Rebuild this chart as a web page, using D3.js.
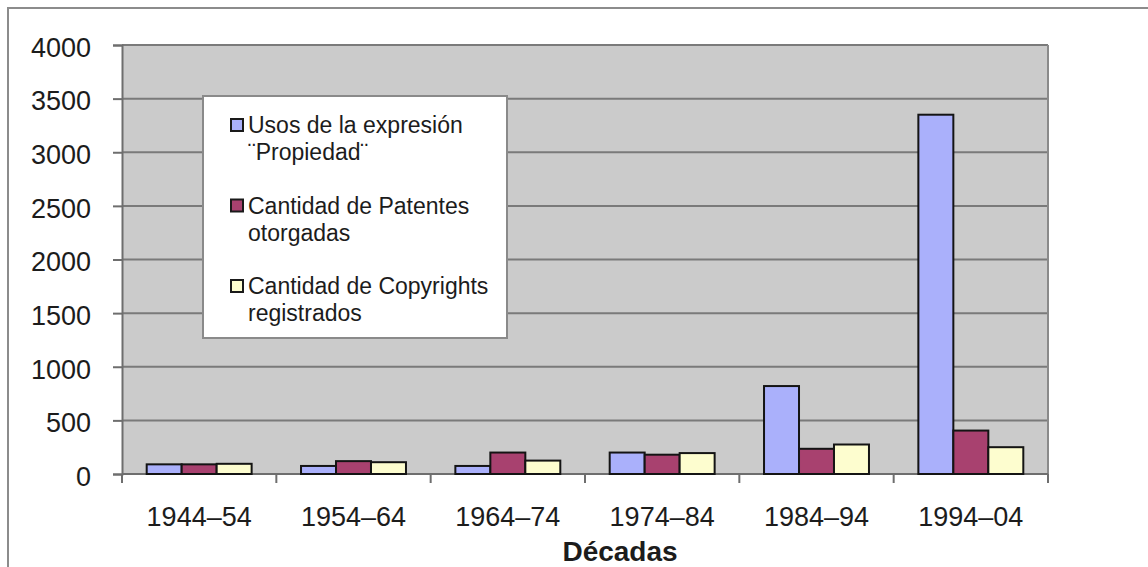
<!DOCTYPE html>
<html lang="es">
<head>
<meta charset="utf-8">
<script src="https://cdn.jsdelivr.net/npm/d3@7"></script>
<style>
  html, body { margin: 0; padding: 0; background: #ffffff; }
  svg { display: block; font-family: "Liberation Sans", Arial, sans-serif; }
</style>
</head>
<body>
<svg id="chart" width="1148" height="567"></svg>
<script>
// Décadas en el eje X
const categories = ["1944–54", "1954–64", "1964–74", "1974–84", "1984–94", "1994–04"];

// Series de valores por década
const usosPropiedad = [90, 75, 75, 200, 820, 3350];
const patentes      = [90, 120, 200, 180, 235, 405];
const copyrights    = [95, 110, 125, 195, 275, 250];

// Etiquetas de la leyenda (una línea por elemento)
const legendLabels = [
  ["Usos de la expresión", "¨Propiedad¨"],
  ["Cantidad de Patentes", "otorgadas"],
  ["Cantidad de Copyrights", "registrados"]
];
const seriesColors = ["#aab0fb", "#a8416f", "#fdfdcf"];

// Marcas del eje Y
const yTicks = [0, 500, 1000, 1500, 2000, 2500, 3000, 3500, 4000];

const xTitle = "Décadas";

const series = [usosPropiedad, patentes, copyrights];

const svg = d3.select("#chart");
const plot = { left: 122, right: 1048, top: 45, bottom: 474 };

// Marco exterior del gráfico
svg.append("path")
  .attr("d", `M8,567 L8,8 L1148,8`)
  .attr("fill", "none")
  .attr("stroke", "#8c8c8c")
  .attr("stroke-width", 2);

// Escalas
const y = d3.scaleLinear().domain([0, 4000]).range([plot.bottom, plot.top]);
const xCat = d3.scaleBand().domain(categories).range([plot.left, plot.right]).padding(0);
const step = xCat.step();
const groupW = step * 0.68;
const xSeries = d3.scaleBand().domain(d3.range(series.length)).range([0, groupW]).padding(0);

// Área de trazado
svg.append("rect")
  .attr("x", plot.left).attr("y", plot.top)
  .attr("width", plot.right - plot.left).attr("height", plot.bottom - plot.top)
  .attr("fill", "#cbcbcb");

// Líneas de división horizontales
svg.append("g")
  .selectAll("line")
  .data(yTicks)
  .join("line")
  .attr("x1", plot.left).attr("x2", plot.right)
  .attr("y1", d => y(d)).attr("y2", d => y(d))
  .attr("stroke", "#7a7a7a")
  .attr("stroke-width", 2);

// Borde derecho del área de trazado
svg.append("line")
  .attr("x1", plot.right).attr("x2", plot.right)
  .attr("y1", plot.top).attr("y2", plot.bottom)
  .attr("stroke", "#8a8a8a").attr("stroke-width", 2);

// Eje Y
const yAxis = svg.append("g")
  .attr("transform", `translate(${plot.left},0)`)
  .call(d3.axisLeft(y).tickValues(yTicks).tickSize(9).tickPadding(22).tickFormat(d3.format("d")));
yAxis.select(".domain").attr("stroke", "#6e6e6e").attr("stroke-width", 2);
yAxis.selectAll(".tick line").attr("stroke", "#6e6e6e").attr("stroke-width", 2);
yAxis.selectAll(".tick text")
  .attr("font-size", 27)
  .attr("fill", "#1c1c1c")
  .attr("dy", "0.42em")
  .style("font-family", "'Liberation Sans', Arial, sans-serif");

// Eje X: línea base y marcas entre categorías
svg.append("line")
  .attr("x1", plot.left).attr("x2", plot.right)
  .attr("y1", y(0)).attr("y2", y(0))
  .attr("stroke", "#6e6e6e").attr("stroke-width", 2);

const boundaries = categories.map(c => xCat(c)).concat([plot.right]);
svg.append("g")
  .selectAll("line")
  .data(boundaries)
  .join("line")
  .attr("x1", d => d).attr("x2", d => d)
  .attr("y1", y(0)).attr("y2", y(0) + 9)
  .attr("stroke", "#6e6e6e").attr("stroke-width", 2);

const xAxis = svg.append("g")
  .attr("transform", `translate(0,${y(0)})`)
  .call(d3.axisBottom(xCat).tickSize(0).tickPadding(33));
xAxis.select(".domain").remove();
xAxis.selectAll(".tick text")
  .attr("font-size", 27)
  .attr("fill", "#1c1c1c")
  .style("font-family", "'Liberation Sans', Arial, sans-serif");

// Barras agrupadas
const groups = svg.append("g")
  .selectAll("g")
  .data(categories)
  .join("g")
  .attr("transform", c => `translate(${xCat(c) + (step - groupW) / 2},0)`);

groups.selectAll("rect")
  .data((c, i) => series.map((s, k) => ({ k, v: s[i] })))
  .join("rect")
  .attr("x", d => xSeries(d.k))
  .attr("width", xSeries.bandwidth())
  .attr("y", d => y(d.v))
  .attr("height", d => y(0) - y(d.v))
  .attr("fill", d => seriesColors[d.k])
  .attr("stroke", "#141414")
  .attr("stroke-width", 2);

// Título del eje X
svg.append("text")
  .attr("x", 620).attr("y", 561)
  .attr("text-anchor", "middle")
  .attr("font-size", 28)
  .attr("font-weight", "bold")
  .attr("fill", "#1c1c1c")
  .text(xTitle);

// Leyenda
const legend = svg.append("g");
legend.append("rect")
  .attr("x", 203).attr("y", 96)
  .attr("width", 304).attr("height", 242)
  .attr("fill", "#ffffff")
  .attr("stroke", "#8a8a8a")
  .attr("stroke-width", 2);

const entries = legend.selectAll("g.entry")
  .data(legendLabels)
  .join("g")
  .attr("class", "entry")
  .attr("transform", (d, i) => `translate(0,${133 + i * 80.5})`);

entries.append("rect")
  .attr("x", 231).attr("y", -14)
  .attr("width", 12).attr("height", 12)
  .attr("fill", (d, i) => seriesColors[i])
  .attr("stroke", "#1a1a1a")
  .attr("stroke-width", 2);

entries.append("text")
  .attr("x", 248)
  .attr("font-size", 23)
  .attr("fill", "#1c1c1c")
  .selectAll("tspan")
  .data(d => d)
  .join("tspan")
  .attr("x", 248)
  .attr("dy", (d, j) => j === 0 ? 0 : 27)
  .text(d => d);
</script>
</body>
</html>
